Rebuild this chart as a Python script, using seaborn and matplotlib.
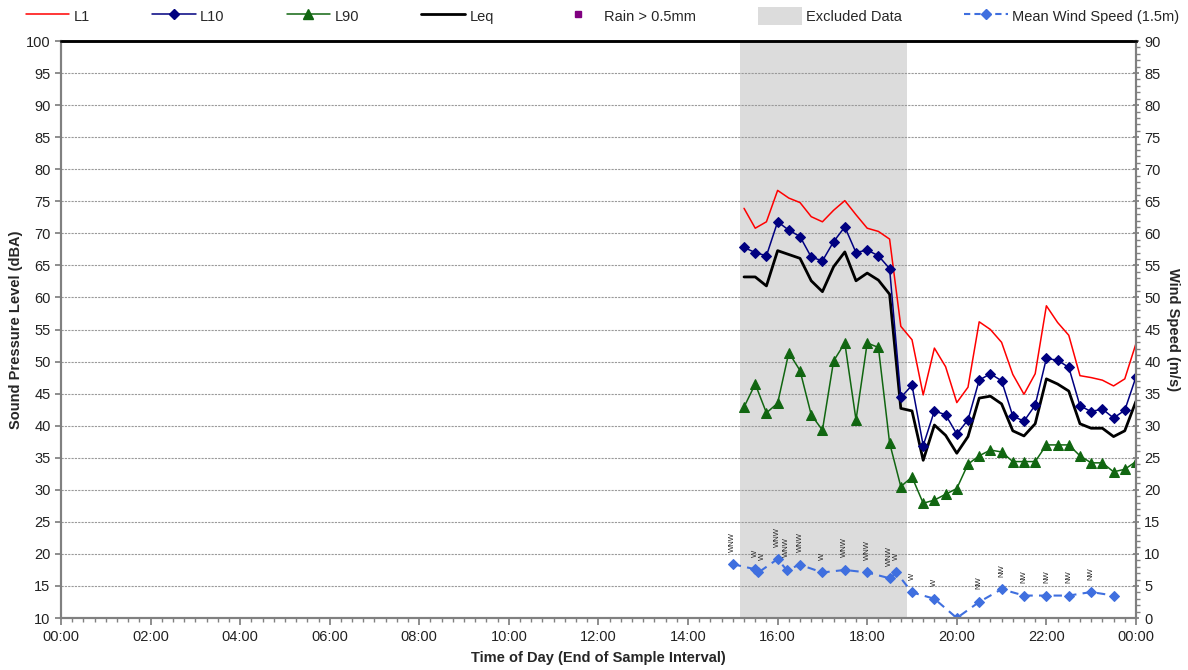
import numpy as np
import pandas as pd
import matplotlib
matplotlib.use("Agg")
import matplotlib.pyplot as plt
import seaborn as sns
from matplotlib.lines import Line2D
from matplotlib.patches import Patch
from matplotlib.ticker import MultipleLocator

# noise data, 15 minute intervals (hours of day, end of interval)
hours = [15.25 + 0.25 * i for i in range(36)]
L1 = [73.9, 70.8, 71.8, 76.7, 75.5, 74.8, 72.6, 71.8, 73.6, 75.1, 72.9, 70.8,
      70.3, 69.1, 55.5, 53.4, 44.8, 52.1, 49.2, 43.6, 46.0, 56.2, 55.0, 53.0,
      48.0, 44.9, 48.1, 58.7, 56.1, 54.1, 47.8, 47.5, 47.1, 46.2, 47.3, 52.8]
L10 = [67.8, 67.0, 66.5, 71.8, 70.5, 69.5, 66.3, 65.7, 68.7, 71.0, 67.0, 67.4,
       66.5, 64.5, 44.4, 46.3, 36.9, 42.3, 41.7, 38.7, 40.9, 47.1, 48.1, 47.0,
       41.5, 40.7, 43.2, 50.5, 50.2, 49.1, 43.1, 42.2, 42.6, 41.2, 42.4, 47.6]
L90 = [42.9, 46.5, 42.0, 43.5, 51.4, 48.6, 41.7, 39.3, 50.1, 52.9, 40.9, 52.9,
       52.2, 37.3, 30.5, 32.0, 27.9, 28.4, 29.3, 30.2, 34.0, 35.3, 36.2, 35.9,
       34.4, 34.4, 34.4, 37.0, 37.0, 37.0, 35.3, 34.2, 34.2, 32.8, 33.2, 34.4]
Leq = [63.2, 63.2, 61.8, 67.3, 66.7, 66.1, 62.6, 60.9, 64.8, 67.1, 62.6, 63.8,
       62.7, 60.5, 42.7, 42.3, 34.6, 40.1, 38.5, 35.7, 38.3, 44.3, 44.6, 43.4,
       39.2, 38.4, 40.3, 47.3, 46.5, 45.4, 40.3, 39.6, 39.6, 38.3, 39.2, 43.8]

# wind data
wind_hours = [15.0, 15.5, 15.57, 16.0, 16.2, 16.5, 17.0, 17.5, 18.0, 18.5, 18.65,
              19.0, 19.5, 20.0, 20.5, 21.0, 21.5, 22.0, 22.5, 23.0, 23.5]
wind_speed = [8.4, 7.6, 7.1, 9.2, 7.5, 8.3, 7.1, 7.5, 7.1, 6.2, 7.1,
              4.0, 3.0, 0.0, 2.5, 4.5, 3.5, 3.5, 3.5, 4.05, 3.5]
wind_dir = ["WNW", "W", "W", "WNW", "WNW", "WNW", "W", "WNW", "WNW", "WNW", "W",
            "W", "W", "", "NW", "NW", "NW", "NW", "NW", "NW", ""]

excluded = (15.17, 18.88)

sns.set_theme(style="white")
plt.rcParams['font.family'] = ['Liberation Sans', 'DejaVu Sans']

fig = plt.figure(figsize=(11.88, 6.70), dpi=100)
ax = fig.add_axes([0.0513, 0.0776, 0.9049, 0.8612])
ax2 = ax.twinx()

ax.axvspan(excluded[0], excluded[1], color="#DCDCDC", lw=0, zorder=1)

df = pd.DataFrame({"hour": hours, "L1": L1, "L10": L10, "L90": L90, "Leq": Leq})
sns.lineplot(data=df, x="hour", y="L1", ax=ax, color="#FF0000", lw=1.1, zorder=3)
sns.lineplot(data=df, x="hour", y="L10", ax=ax, color="#000080", lw=1.1, marker="D",
             markersize=5.5, markeredgecolor="#000080", zorder=4)
sns.lineplot(data=df, x="hour", y="L90", ax=ax, color="#116611", lw=1.1, marker="^",
             markersize=7, markeredgecolor="#116611", zorder=3)
sns.lineplot(data=df, x="hour", y="Leq", ax=ax, color="black", lw=2, zorder=3)

wdf = pd.DataFrame({"hour": wind_hours, "speed": wind_speed})
sns.lineplot(data=wdf, x="hour", y="speed", ax=ax2, color="#3F6FDF", lw=1.5,
             linestyle=(0, (4, 3)), marker="D", markersize=5.5,
             markeredgecolor="#3F6FDF", sort=False)
# wind direction labels, the second 15:30 reading nudged aside a little
for i, (h, s, d) in enumerate(zip(wind_hours, wind_speed, wind_dir)):
    if d:
        dx = 3 if i == 2 else 0
        ax2.annotate(d, (h, s), xytext=(dx, 9), textcoords="offset points",
                     rotation=90, ha="center", va="bottom", fontsize=5.5)

# axes limits and ticks
ax.set_xlim(0, 24)
ax.set_ylim(10, 100)
ax2.set_ylim(0, 90)
ax.set_yticks(np.arange(10, 101, 5))
ax2.set_yticks(np.arange(0, 91, 5))
ax2.yaxis.set_minor_locator(MultipleLocator(1))
ax.set_xticks(np.arange(0, 25, 2))
ax.set_xticklabels([f"{h % 24:02d}:00" for h in range(0, 25, 2)])
ax.xaxis.set_minor_locator(MultipleLocator(0.25))

ax.set_axisbelow("line")
ax.yaxis.grid(True, color="#9a9a9a", linestyle=(0, (2, 1)), lw=0.8)
ax.xaxis.grid(False)
ax2.grid(False)

ax.tick_params(axis="both", labelsize=10.5, colors="#222222", direction="out")
ax.tick_params(axis="x", which="major", length=5, color="#808080", bottom=True)
ax.tick_params(axis="x", which="minor", length=3, color="#808080", bottom=True)
ax.tick_params(axis="y", which="major", length=4, color="#808080", left=True)
ax2.tick_params(axis="y", which="major", length=5, color="#808080", right=True,
                labelsize=10.5, labelcolor="#222222", direction="inout")
ax2.tick_params(axis="y", which="minor", length=3, color="#808080", right=True,
                direction="out")

for a in (ax, ax2):
    for side in ("left", "right", "bottom"):
        a.spines[side].set_color("#808080")
        a.spines[side].set_linewidth(1.5)
    a.spines["top"].set_color("black")
    a.spines["top"].set_linewidth(1.8)

ax.set_xlabel("Time of Day (End of Sample Interval)", fontsize=10.5,
              fontweight="bold", labelpad=5)
ax.set_ylabel("Sound Pressure Level (dBA)", fontsize=10.5, fontweight="bold",
              labelpad=2)
ax2.set_ylabel("Wind Speed (m/s)", fontsize=10.5, fontweight="bold",
               rotation=270, labelpad=14)

handles = [
    Line2D([], [], color="#FF0000", lw=1.1),
    Line2D([], [], color="#000080", lw=1.1, marker="D", markersize=5),
    Line2D([], [], color="#116611", lw=1.1, marker="^", markersize=6.5),
    Line2D([], [], color="black", lw=2),
    Line2D([], [], color="#800080", lw=0, marker="s", markersize=4),
    Patch(facecolor="#DCDCDC", edgecolor="none"),
    Line2D([], [], color="#3F6FDF", lw=1.5, linestyle=(0, (3, 2)), marker="D",
           markersize=5),
]
labels = ["L1", "L10", "L90", "Leq", "Rain > 0.5mm", "Excluded Data",
          "Mean Wind Speed (1.5m)"]
fig.legend(handles, labels, loc="center", bbox_to_anchor=(0.507, 0.976), ncol=7,
           frameon=False, fontsize=10.5, handlelength=3.0, handletextpad=0.3,
           columnspacing=4.25, handleheight=1.6)

fig.savefig("out.png", dpi=100)
